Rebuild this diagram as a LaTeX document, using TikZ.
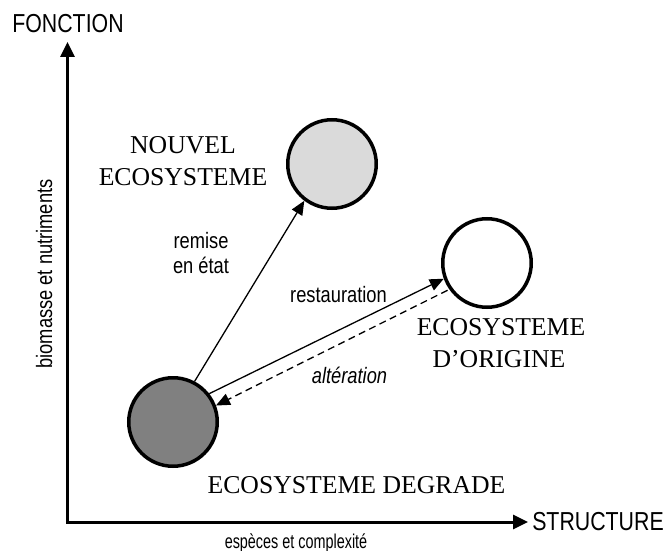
\documentclass[tikz,border=0pt]{standalone}
\usepackage{fontspec}
\newfontfamily\sansN[FakeStretch=0.82]{Liberation Sans}
\newfontfamily\sansS[FakeStretch=0.72]{Liberation Sans}
\newfontfamily\serifT{Liberation Serif}
\usetikzlibrary{arrows.meta}
\definecolor{lightfill}{HTML}{DADADA}
\definecolor{darkfill}{HTML}{808080}
\begin{document}
\begin{tikzpicture}[x=1pt,y=-1pt,
  axis/.style={line width=3pt},
  eco/.style={circle,draw,line width=3.5pt,minimum size=88.5pt,inner sep=0pt},
  conn/.style={line width=1.3pt,-{Triangle[length=14pt,width=12pt]}},
  axlabel/.style={font=\sansN\fontsize{26}{30}\selectfont,anchor=base,inner sep=0pt},
  smlabel/.style={font=\sansN\fontsize{22.3}{26}\selectfont,anchor=base,inner sep=0pt},
  serlabel/.style={font=\serifT\fontsize{25.7}{32}\selectfont,anchor=base,inner sep=0pt}
]
\useasboundingbox (0,0) rectangle (667,551);
% axes
\coordinate (O) at (67.5,522);
\coordinate (ytip) at (67.5,42);
\coordinate (xtip) at (528,522);
\draw[axis,{Triangle[length=15pt,width=14pt]}-{Triangle[length=15pt,width=14pt]}] (ytip) -- (O) -- (xtip);
\node[axlabel] (fonction) at (68,33) {FONCTION};
\node[axlabel] (structure) at (598,530) {STRUCTURE};
\node[smlabel,rotate=90] (biomasse) at (52,274) {biomasse et nutriments};
\node[font=\sansS\fontsize{20}{23}\selectfont,anchor=base,inner sep=0pt] (especes) at (296,548) {espèces et complexité};
% circles
\node[eco,fill=lightfill] (nouv) at (332,164) {};
\node[eco,fill=white] (orig) at (487,263) {};
\node[eco,fill=darkfill] (deg) at (173,422) {};
% connectors
\draw[conn] (deg.62) -- (nouv.233);
\draw[conn] (deg.38) -- (orig.200);
\draw[conn,dash pattern=on 7pt off 4.5pt,shorten <=2pt] (orig.215) -- (deg.21);
% labels
\node[serlabel] (l1) at (183,153) {NOUVEL};
\node[serlabel] (l2) at (183,185) {ECOSYSTEME};
\node[serlabel] (l3) at (501,335) {ECOSYSTEME};
\node[serlabel] (l4) at (499,367) {D’ORIGINE};
\node[serlabel] (l5) at (356.5,493) {ECOSYSTEME DEGRADE};
\node[smlabel] (remise) at (201,248) {remise};
\node[smlabel] (etat) at (201,273) {en état};
\node[smlabel] (rest) at (338.5,302) {restauration};
\node[smlabel,font=\sansN\itshape\fontsize{22.3}{26}\selectfont] (alt) at (349.5,383) {altération};
\end{tikzpicture}
\end{document}
